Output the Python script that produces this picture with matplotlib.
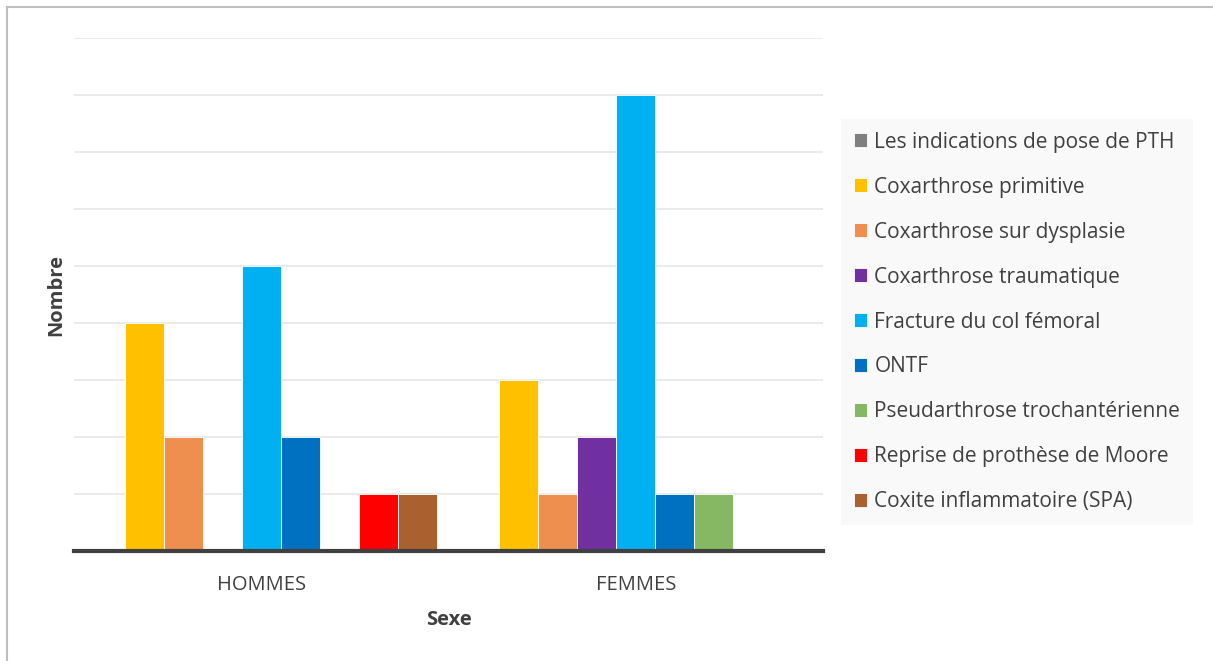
import numpy as np
import matplotlib
matplotlib.use("Agg")
import matplotlib.pyplot as plt
from matplotlib.patches import Rectangle

plt.rcParams['font.family'] = ['Open Sans', 'DejaVu Sans']

categories = ['HOMMES', 'FEMMES']
series = ['Les indications de pose de PTH', 'Coxarthrose primitive',
          'Coxarthrose sur dysplasie', 'Coxarthrose traumatique',
          'Fracture du col fémoral', 'ONTF', 'Pseudarthrose trochantérienne',
          'Reprise de prothèse de Moore', 'Coxite inflammatoire (SPA)']
values = [
    [0, 0],   # indications
    [4, 3],   # primitive
    [2, 1],   # dysplasie
    [0, 2],   # traumatique
    [5, 8],   # fracture
    [2, 1],   # ONTF
    [0, 1],   # pseudarthrose
    [1, 0],   # reprise Moore
    [1, 0],   # coxite
]
colors = ['#7F7F7F', '#FFC000', '#EE8F50', '#7030A0', '#00B0F0',
          '#0070C0', '#86B864', '#FF0000', '#A9622F']

fig = plt.figure(figsize=(12.13, 6.61), dpi=100)
ax = fig.add_axes([74/1213, 1-551/661, (823-74)/1213, (551-38)/661])

x = np.arange(len(categories))
w = 0.104
n = len(series)
for i in range(n):
    off = (i - (n-1)/2) * w
    ax.bar(x + off, values[i], width=w, color=colors[i], edgecolor='white',
           linewidth=0.6, label=series[i], zorder=3)

ax.set_xlim(-0.5, 1.5)
ax.set_ylim(0, 9)
ax.set_yticks(range(0, 10))
ax.set_yticklabels([])
ax.tick_params(axis='y', length=0)
ax.tick_params(axis='x', length=0, pad=17, labelsize=14.5, labelcolor='#404040')
ax.set_xticks(x)
ax.set_xticklabels(categories)
ax.grid(axis='y', color='#E6E6E6', linewidth=1.2, zorder=0)
for s in ['top', 'right', 'left']:
    ax.spines[s].set_visible(False)
ax.spines['bottom'].set_color('#404040')
ax.spines['bottom'].set_linewidth(3)
ax.spines['bottom'].set_zorder(4)

ax.set_xlabel('Sexe', fontsize=14.5, fontweight='bold', color='#404040', labelpad=11)
ax.set_ylabel('Nombre', fontsize=14.5, fontweight='bold', color='#404040', labelpad=2)

leg = fig.legend(loc='center left', bbox_to_anchor=(841/1213, 1-322/661),
                 fontsize=15, frameon=True, fancybox=False, facecolor='#F8F8F8',
                 edgecolor='none', handlelength=0.65, handleheight=0.65,
                 handletextpad=0.35, labelspacing=1.15, borderpad=0.6,
                 borderaxespad=0, labelcolor='#404040')
leg.get_frame().set_linewidth(0)

fig.add_artist(Rectangle((7/1213, -0.05), 1.1, 1-7/661+0.05, transform=fig.transFigure,
                         fill=False, edgecolor='#BFBFBF', linewidth=1.5))

fig.savefig('out.png', dpi=100)
